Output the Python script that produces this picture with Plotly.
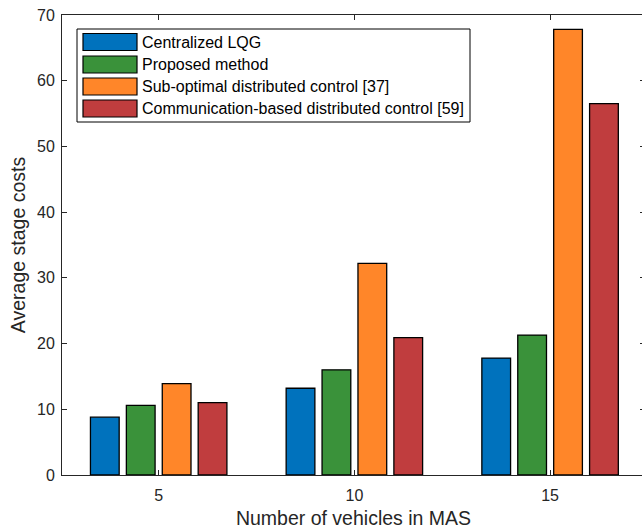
import plotly.graph_objects as go

categories = ["5", "10", "15"]
series_names = [
    "Centralized LQG",
    "Proposed method",
    "Sub-optimal distributed control [37]",
    "Communication-based distributed control [59]",
]
centralized_lqg = [8.8, 13.2, 17.8]
proposed_method = [10.6, 16.0, 21.3]
sub_optimal = [13.9, 32.2, 67.8]
communication_based = [11.0, 20.9, 56.5]
y_ticks = [0, 10, 20, 30, 40, 50, 60, 70]

colors = ["#0072BD", "#3A923A", "#FF8629", "#C03D3E"]
series_values = [centralized_lqg, proposed_method, sub_optimal, communication_based]

FONT = "Liberation Sans, Arial, sans-serif"
AX = "#262626"

W, H = 645, 529
ML, MR, MT, MB = 62, 0, 15, 54
PW, PH = W - ML - MR, H - MT - MB


def px(x):
    return (x - ML) / PW


def py(y):
    return 1 - (y - MT) / PH


fig = go.Figure()
for name, vals, col in zip(series_names, series_values, colors):
    fig.add_trace(go.Bar(
        x=categories, y=vals, name=name, showlegend=False,
        marker=dict(color=col, line=dict(color="#000000", width=1.3)),
    ))

# Legend drawn in MATLAB style (wide swatches)
shapes = [dict(type="rect", xref="paper", yref="paper",
               x0=px(77), x1=px(470), y0=py(122), y1=py(29),
               line=dict(color="#000000", width=1), fillcolor="white", layer="above")]
annotations = []
row_centers = [42, 64.5, 86.5, 108.5]
for name, col, yc in zip(series_names, colors, row_centers):
    shapes.append(dict(type="rect", xref="paper", yref="paper",
                       x0=px(83), x1=px(137), y0=py(yc + 8.5), y1=py(yc - 8.5),
                       line=dict(color="#000000", width=1.2), fillcolor=col, layer="above"))
    annotations.append(dict(xref="paper", yref="paper", x=px(140), y=py(yc),
                            xanchor="left", yanchor="middle", showarrow=False,
                            text=name, font=dict(family=FONT, size=16, color="#000000")))

fig.update_layout(
    width=W, height=H,
    margin=dict(l=ML, r=MR, t=MT, b=MB),
    paper_bgcolor="white", plot_bgcolor="white",
    barmode="group", bargap=0.266, bargroupgap=0.2,
    font=dict(family=FONT, color=AX, size=16),
    showlegend=False,
    shapes=shapes, annotations=annotations,
)
fig.update_xaxes(
    type="category", range=[-0.494, 2.485],
    showline=True, linecolor=AX, linewidth=1, mirror="ticks",
    ticks="inside", ticklen=5, tickcolor=AX, tickwidth=1,
    showgrid=False, zeroline=False,
    tickfont=dict(family=FONT, size=16, color=AX), ticklabelstandoff=6,
    title=dict(text="Number of vehicles in MAS", font=dict(family=FONT, size=19.5, color=AX), standoff=11),
)
fig.update_yaxes(
    range=[0, 70], tickvals=y_ticks,
    showline=True, linecolor=AX, linewidth=1, mirror="ticks",
    ticks="inside", ticklen=5, tickcolor=AX, tickwidth=1,
    showgrid=False, zeroline=False,
    tickfont=dict(family=FONT, size=16, color=AX), ticklabelstandoff=3,
    title=dict(text="Average stage costs", font=dict(family=FONT, size=19.5, color=AX), standoff=6),
)

fig.write_html(
    "out.html",
    config={"displayModeBar": False},
    post_script="document.body.style.margin='0';document.body.style.overflow='hidden';"
                "document.documentElement.style.overflow='hidden';",
)
